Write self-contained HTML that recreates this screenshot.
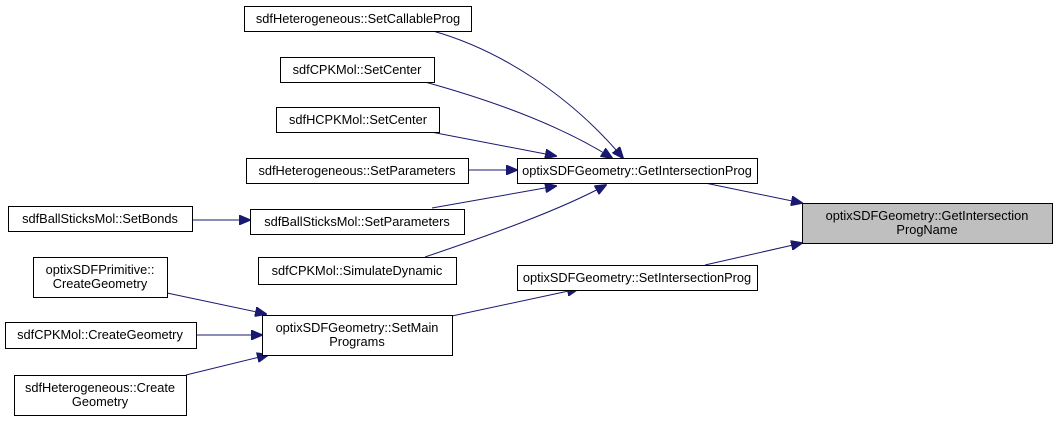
<!DOCTYPE html>
<html><head><meta charset="utf-8"><style>
html,body{margin:0;padding:0;background:#fff;}
svg text{font-family:"Liberation Sans",Arial,sans-serif;font-size:12.8px;fill:#000;}
</style></head><body>
<svg width="1057" height="421" viewBox="0 0 1057 421" xmlns="http://www.w3.org/2000/svg">
<defs>
<marker id="a" viewBox="0 0 12 10" refX="11" refY="5" markerWidth="12" markerHeight="10" markerUnits="userSpaceOnUse" orient="auto">
<path d="M0,0 L12,5 L0,10 z" fill="#191970" stroke="#191970"/>
</marker>
</defs>
<g fill="none" stroke="#191970" stroke-width="1" marker-end="url(#a)">
<path d="M433,31 C500,50 570,95 623,158"/>
<path d="M425,82 C490,100 560,125 612,158"/>
<path d="M431,132 L556,156"/>
<path d="M468,170 L517,170"/>
<path d="M432,208 L556,186"/>
<path d="M425,257 C490,235 560,210 606,185"/>
<path d="M705,183 L802,203"/>
<path d="M705,265 L802,243"/>
<path d="M452,316 L578,289"/>
<path d="M192,220 L250,220"/>
<path d="M167,293 L266,314"/>
<path d="M196,335 L262,335"/>
<path d="M186,375 L268,355"/>
</g>
<g stroke="#000" stroke-width="1" fill="#fff">
<rect x="244.5" y="6.5" width="227" height="25"/>
<rect x="280.5" y="57.5" width="154" height="25"/>
<rect x="276.5" y="107.5" width="163" height="25"/>
<rect x="246.5" y="158.5" width="222" height="25"/>
<rect x="8.5" y="206.5" width="184" height="25"/>
<rect x="250.5" y="209.5" width="214" height="25"/>
<rect x="258.5" y="257.5" width="198" height="27"/>
<rect x="33.5" y="257.5" width="134" height="40"/>
<rect x="262.5" y="315.5" width="190" height="40"/>
<rect x="5.5" y="322.5" width="191" height="26"/>
<rect x="14.5" y="375.5" width="172" height="40"/>
<rect x="517.5" y="158.5" width="240" height="25"/>
<rect x="517.5" y="265.5" width="240" height="25"/>
<rect x="802.5" y="203.5" width="250" height="40" fill="#bfbfbf"/>
</g>
<g text-anchor="middle">
<text x="358" y="23">sdfHeterogeneous::SetCallableProg</text>
<text x="357" y="74">sdfCPKMol::SetCenter</text>
<text x="358" y="124">sdfHCPKMol::SetCenter</text>
<text x="357" y="175">sdfHeterogeneous::SetParameters</text>
<text x="100" y="223">sdfBallSticksMol::SetBonds</text>
<text x="357" y="226">sdfBallSticksMol::SetParameters</text>
<text x="357" y="275">sdfCPKMol::SimulateDynamic</text>
<text x="100" y="274">optixSDFPrimitive::</text>
<text x="100" y="288">CreateGeometry</text>
<text x="357" y="332">optixSDFGeometry::SetMain</text>
<text x="357" y="346">Programs</text>
<text x="100" y="339">sdfCPKMol::CreateGeometry</text>
<text x="100" y="392">sdfHeterogeneous::Create</text>
<text x="100" y="406">Geometry</text>
<text x="637" y="175">optixSDFGeometry::GetIntersectionProg</text>
<text x="637" y="282">optixSDFGeometry::SetIntersectionProg</text>
<text x="927" y="220">optixSDFGeometry::GetIntersection</text>
<text x="927" y="234">ProgName</text>
</g>
</svg>
</body></html>
